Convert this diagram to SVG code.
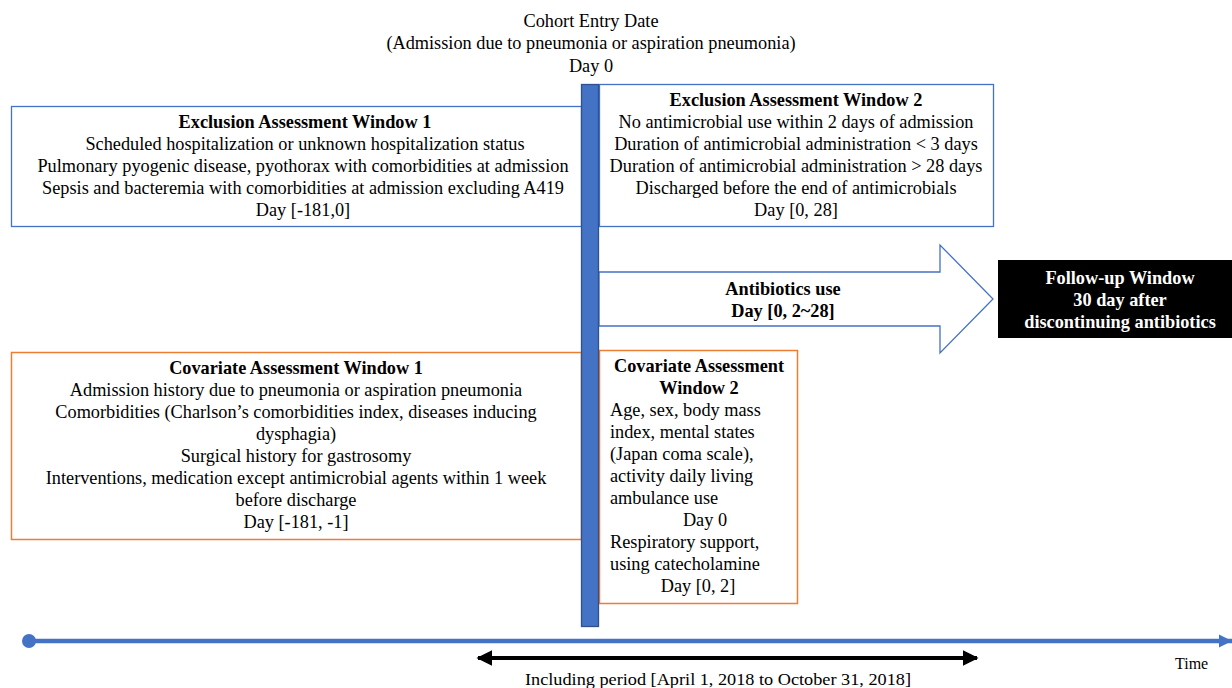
<svg xmlns="http://www.w3.org/2000/svg" width="1232" height="688" viewBox="0 0 1232 688">
<style>
text{font-family:"Liberation Serif","Times New Roman",serif;font-size:18.3px;fill:#000}
.c{text-anchor:middle}
.b{font-weight:bold}
.w{fill:#fff}
.bluebox{fill:#fff;stroke:#4472C4;stroke-width:1.3}
.orbox{fill:#fff;stroke:#ED7D31;stroke-width:1.5}
</style>
<defs>
<marker id="bh" viewBox="0 0 10 10" refX="9" refY="5" markerWidth="4" markerHeight="4" orient="auto-start-reverse"><path d="M0,0 L10,5 L0,10 z" fill="#000"/></marker>
<marker id="th" viewBox="0 0 10 10" refX="10" refY="5" markerWidth="3" markerHeight="3.5" orient="auto"><path d="M0,0 L10,5 L0,10 z" fill="#4472C4"/></marker>
</defs>
<g id="header">
<text class="c" x="591" y="27">Cohort Entry Date</text>
<text class="c" x="591" y="49">(Admission due to pneumonia or aspiration pneumonia)</text>
<text class="c" x="591" y="72">Day 0</text>
</g>
<g id="excl1">
<rect class="bluebox" x="11.5" y="106.5" width="570" height="120"/>
<text class="c b" x="305" y="128">Exclusion Assessment Window 1</text>
<text class="c" x="305" y="150">Scheduled hospitalization or unknown hospitalization status</text>
<text class="c" x="303" y="172">Pulmonary pyogenic disease, pyothorax with comorbidities at admission</text>
<text class="c" x="303" y="194">Sepsis and bacteremia with comorbidities at admission excluding A419</text>
<text class="c" x="303" y="216">Day [-181,0]</text>
</g>
<g id="excl2">
<rect class="bluebox" x="599.5" y="84.5" width="394" height="142"/>
<text class="c b" x="796" y="106">Exclusion Assessment Window 2</text>
<text class="c" x="796" y="128">No antimicrobial use within 2 days of admission</text>
<text class="c" x="796" y="150">Duration of antimicrobial administration &lt; 3 days</text>
<text class="c" x="796" y="172">Duration of antimicrobial administration &gt; 28 days</text>
<text class="c" x="796" y="194">Discharged before the end of antimicrobials</text>
<text class="c" x="796" y="216">Day [0, 28]</text>
</g>
<g id="antibiotics">
<path d="M599,272 H940 V245 L993,299 L940,353 V326 H599 Z" fill="#fff" stroke="#4472C4" stroke-width="1.3"/>
<text class="c b" x="783" y="295">Antibiotics use</text>
<text class="c b" x="783" y="317">Day [0, 2~28]</text>
</g>
<g id="followup">
<rect x="998" y="260" width="234" height="78" fill="#000"/>
<text class="c b w" x="1120" y="284">Follow-up Window</text>
<text class="c b w" x="1120" y="306">30 day after</text>
<text class="c b w" x="1120" y="328">discontinuing antibiotics</text>
</g>
<g id="cov1">
<rect class="orbox" x="11.5" y="352.5" width="570" height="187"/>
<text class="c b" x="296" y="374">Covariate Assessment Window 1</text>
<text class="c" x="296" y="396">Admission history due to pneumonia or aspiration pneumonia</text>
<text class="c" x="296" y="418">Comorbidities (Charlson’s comorbidities index, diseases inducing</text>
<text class="c" x="296" y="440">dysphagia)</text>
<text class="c" x="296" y="462">Surgical history for gastrosomy</text>
<text class="c" x="296" y="484">Interventions, medication except antimicrobial agents within 1 week</text>
<text class="c" x="296" y="506">before discharge</text>
<text class="c" x="296" y="528">Day [-181, -1]</text>
</g>
<g id="cov2">
<rect class="orbox" x="599.5" y="350.5" width="198" height="253"/>
<text class="c b" x="699" y="372">Covariate Assessment</text>
<text class="c b" x="699" y="394">Window 2</text>
<text x="610" y="416">Age, sex, body mass</text>
<text x="610" y="438">index, mental states</text>
<text x="610" y="460">(Japan coma scale),</text>
<text x="610" y="482">activity daily living</text>
<text x="610" y="504">ambulance use</text>
<text class="c" x="705" y="526">Day 0</text>
<text x="610" y="548">Respiratory support,</text>
<text x="610" y="570">using catecholamine</text>
<text class="c" x="698" y="592">Day [0, 2]</text>
</g>
<g id="cohort-bar">
<rect x="581.5" y="84.5" width="17" height="542" fill="#4472C4" stroke="#2F528F" stroke-width="1.3"/>
</g>
<g id="connectors">
<line x1="29" y1="641" x2="1232" y2="641" stroke="#4472C4" stroke-width="4.5" marker-end="url(#th)"/>
<circle cx="29" cy="641" r="7" fill="#4472C4"/>
<line x1="478" y1="658" x2="977" y2="658" stroke="#000" stroke-width="4" marker-start="url(#bh)" marker-end="url(#bh)"/>
</g>
<g id="labels">
<text x="1175" y="669" style="font-size:16px">Time</text>
<text class="c" x="718" y="685" style="font-size:17px" textLength="386" lengthAdjust="spacingAndGlyphs">Including period [April 1, 2018 to October 31, 2018]</text>
</g>
</svg>
